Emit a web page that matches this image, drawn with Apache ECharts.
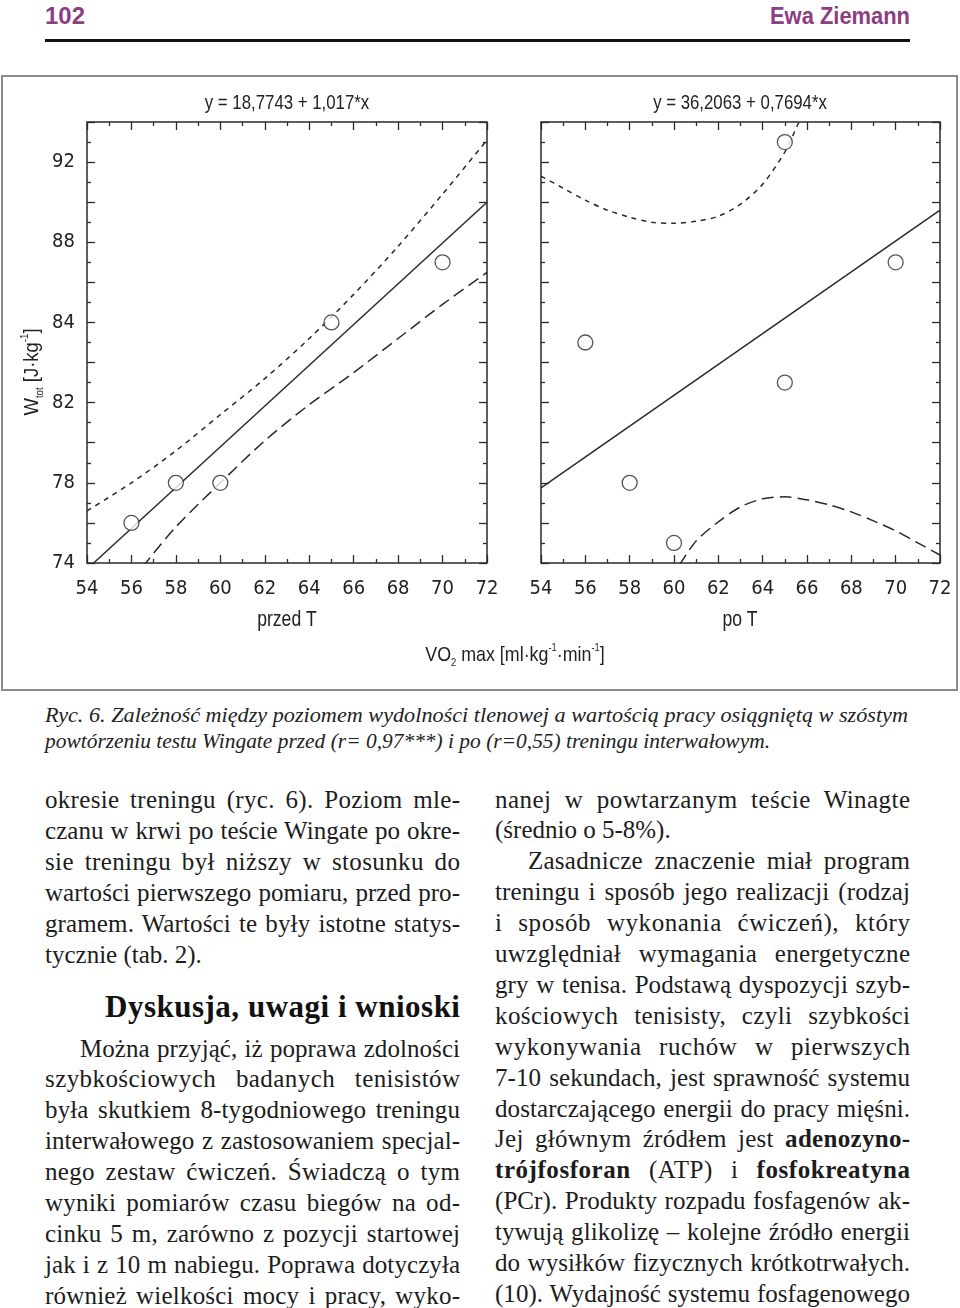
<!DOCTYPE html>
<html>
<head>
<meta charset="utf-8">
<script src="https://cdn.jsdelivr.net/npm/echarts@6/dist/echarts.min.js"></script>
<style>
  html, body { margin: 0; padding: 0; background: #fff; }
  #page { position: relative; width: 960px; height: 1308px; overflow: hidden; background: #fff; }
  .ln { position: absolute; white-space: nowrap; height: 31px; line-height: 31px; }
  .ln > span { display: inline-block; white-space: nowrap; transform-origin: 0 50%; }
  .body { font-family: 'Liberation Serif', 'Times New Roman', serif; font-size: 25px; color: #1c1c1c; }
  .cap { font-family: 'Liberation Serif', 'Times New Roman', serif; font-style: italic; font-size: 22px; color: #222; }
  .head { font-family: 'Liberation Sans', Arial, sans-serif; font-weight: bold; font-size: 23px; color: #8c3d84; }
  .h2 { font-family: 'Liberation Serif', 'Times New Roman', serif; font-weight: bold; font-size: 31px; color: #111; }
  #rule { position: absolute; left: 45px; top: 39px; width: 865px; height: 3px; background: #111; }
  #figbox { position: absolute; left: 1px; top: 75px; width: 953px; height: 612px; border: 2px solid #8c8c8c; }
  #chart { position: absolute; left: 0; top: 75px; width: 958px; height: 616px; }
</style>
</head>
<body>
<div id="page">
  <div id="rule"></div>
  <div id="figbox"></div>
  <div id="chart"></div>
</div>
<script>
// ---------------- data ----------------
// left panel: "przed T"
const preX = [56, 58, 60, 65, 70];
const preY = [76, 78, 78, 86, 89];
const preFitX = [54.3, 72];
const preFitY = [74.0, 92.0];
const preUpperX = [54, 56, 58, 60, 62, 64, 66, 68, 70, 72];
const preUpperY = [76.6, 78.0, 79.6, 81.4, 83.2, 85.2, 87.4, 89.8, 92.4, 95.1];
const preLowerX = [56.5, 58, 60, 62, 64, 66, 68, 70, 72];
const preLowerY = [73.8, 75.8, 78.0, 80.1, 81.9, 83.5, 85.2, 86.9, 88.5];
// right panel: "po T"
const postX = [56, 58, 60, 65, 65, 70];
const postY = [85, 78, 75, 95, 83, 89];
const postFitX = [54, 72];
const postFitY = [77.75, 91.6];
const postUpperX = [54, 55, 56, 57, 58, 59, 60, 61, 62, 63, 64, 65, 65.6, 65.8];
const postUpperY = [93.3, 92.7, 92.1, 91.6, 91.25, 91.0, 90.95, 91.05, 91.3, 91.9, 92.9, 94.5, 95.9, 96.3];
const postLowerX = [60.25, 61, 62, 63, 64, 65, 66, 67, 68, 69, 70, 71, 72];
const postLowerY = [73.9, 75.1, 76.05, 76.8, 77.2, 77.3, 77.15, 76.9, 76.55, 76.1, 75.6, 75.0, 74.4];
// axis tick labels as printed in the figure
const yTickValues = [74, 78, 82, 86, 90, 94];
const yTickLabels = ['74', '78', '82', '84', '88', '92'];
const xTickValues = [54, 56, 58, 60, 62, 64, 66, 68, 70, 72];
const eqLeft = 'y = 18,7743 + 1,017*x';
const eqRight = 'y = 36,2063 + 0,7694*x';
const panelNames = ['przed T', 'po T'];

// ---------------- text of the page ----------------
const headerLeft = '102';
const headerRight = 'Ewa Ziemann';
const captionLines = [
  'Ryc. 6. Zależność między poziomem wydolności tlenowej a wartością pracy osiągniętą w szóstym',
  'powtórzeniu testu Wingate przed (r= 0,97***) i po (r=0,55) treningu interwałowym.'
];
const leftColA = [
  'okresie treningu (ryc. 6). Poziom mle-',
  'czanu w krwi po teście Wingate po okre-',
  'sie treningu był niższy w stosunku do',
  'wartości pierwszego pomiaru, przed pro-',
  'gramem. Wartości te były istotne statys-',
  'tycznie (tab. 2).'
];
const heading = 'Dyskusja, uwagi i wnioski';
const leftColB = [
  'Można przyjąć, iż poprawa zdolności',
  'szybkościowych badanych tenisistów',
  'była skutkiem 8-tygodniowego treningu',
  'interwałowego z zastosowaniem specjal-',
  'nego zestaw ćwiczeń. Świadczą o tym',
  'wyniki pomiarów czasu biegów na od-',
  'cinku 5 m, zarówno z pozycji startowej',
  'jak i z 10 m nabiegu. Poprawa dotyczyła',
  'również wielkości mocy i pracy, wyko-'
];
const rightCol = [
  'nanej w powtarzanym teście Winagte',
  '(średnio o 5-8%).',
  'Zasadnicze znaczenie miał program',
  'treningu i sposób jego realizacji (rodzaj',
  'i sposób wykonania ćwiczeń), który',
  'uwzględniał wymagania energetyczne',
  'gry w tenisa. Podstawą dyspozycji szyb-',
  'kościowych tenisisty, czyli szybkości',
  'wykonywania ruchów w pierwszych',
  '7-10 sekundach, jest sprawność systemu',
  'dostarczającego energii do pracy mięśni.',
  'Jej głównym źródłem jest <b>adenozyno-</b>',
  '<b>trójfosforan</b> (ATP) i <b>fosfokreatyna</b>',
  '(PCr). Produkty rozpadu fosfagenów ak-',
  'tywują glikolizę – kolejne źródło energii',
  'do wysiłków fizycznych krótkotrwałych.',
  '(10). Wydajność systemu fosfagenowego'
];

// ---------------- page text layout ----------------
const page = document.getElementById('page');
const BASE = 1.0;
function addLine(html, cls, x, yc, target, mode, h) {
  const d = document.createElement('div');
  d.className = 'ln ' + cls;
  const lh = h || 31;
  d.style.left = x + 'px';
  d.style.top = (yc - lh / 2) + 'px';
  d.style.height = lh + 'px';
  d.style.lineHeight = lh + 'px';
  const s = document.createElement('span');
  s.innerHTML = html;
  d.appendChild(s);
  page.appendChild(d);
  const w = s.getBoundingClientRect().width;
  const txt = s.textContent;
  const spaces = (txt.match(/ /g) || []).length;
  if (mode === 'justify') {
    if (w * BASE >= target || spaces === 0) {
      s.style.transform = 'scaleX(' + (target / w) + ')';
    } else {
      const extra = target / BASE - w;
      // spread part of the slack between letters, the rest between words
      const letters = txt.length - 1;
      const ls = Math.min(extra * 0.35 / letters, 1.2);
      s.style.letterSpacing = ls + 'px';
      const w2 = w + ls * letters;
      s.style.wordSpacing = ((target / BASE - w2) / spaces) + 'px';
      if (BASE !== 1) s.style.transform = 'scaleX(' + BASE + ')';
    }
  } else if (mode === 'left') {
    if (BASE !== 1) s.style.transform = 'scaleX(' + BASE + ')';
  } else if (mode === 'scale') {
    s.style.transform = 'scaleX(' + (target / w) + ')';
  } else if (mode === 'letter') {
    const n = txt.length;
    if (w > target) s.style.transform = 'scaleX(' + (target / w) + ')';
    else s.style.letterSpacing = ((target - w) / (n - 1)) + 'px';
  }
}
addLine(headerLeft, 'head', 45, 16, 40, 'scale', 28);
addLine(headerRight, 'head', 770, 16, 140, 'scale', 28);
addLine(captionLines[0], 'cap', 45, 715, 863, 'scale', 26);
addLine(captionLines[1], 'cap', 45, 741, 725, 'scale', 26);
leftColA.forEach((t, i) => addLine(t, 'body', 45, 799 + i * 31, 415, i === leftColA.length - 1 ? 'left' : 'justify'));
addLine(heading, 'h2', 105, 1007, 355, 'letter', 36);
leftColB.forEach((t, i) => addLine(t, 'body', i === 0 ? 80 : 45, 1048 + i * 30.9, i === 0 ? 380 : 415, 'justify'));
rightCol.forEach((t, i) => {
  const x = i === 2 ? 528 : 495;
  const mode = i === 1 ? 'left' : 'justify';
  addLine(t, 'body', x, 799 + i * 30.9, 910 - x, mode);
});

// ---------------- chart ----------------
const FONT = "'Liberation Sans Narrow', 'DejaVu Sans Condensed', 'Liberation Sans', sans-serif";
const TFONT = "'Liberation Sans', Arial, sans-serif";
const INK = '#2a2a2a';
const zip = (xs, ys) => xs.map((x, i) => [x, ys[i]]);
const chart = echarts.init(document.getElementById('chart'), null, { renderer: 'canvas' });

const grids = [
  { left: 87, top: 47, width: 400, height: 441, show: true, borderColor: INK, borderWidth: 1.5, backgroundColor: 'transparent' },
  { left: 541, top: 47, width: 399, height: 441, show: true, borderColor: INK, borderWidth: 1.5, backgroundColor: 'transparent' }
];
function xAx(g, pos, labels) {
  return {
    gridIndex: g, type: 'value', position: pos, min: 54, max: 72, interval: 2,
    axisLine: { show: false }, splitLine: { show: false },
    axisTick: { show: true, inside: true, length: 8, lineStyle: { color: INK, width: 1.3 } },
    minorTick: { show: true, splitNumber: 2, length: 4, lineStyle: { color: INK, width: 1.3 } },
    axisLabel: labels ? {
      show: true, fontFamily: FONT, fontSize: 20, color: '#222', margin: 16,
      formatter: v => (xTickValues.indexOf(v) >= 0 ? String(v) : '')
    } : { show: false }
  };
}
function yAx(g, pos, labels) {
  return {
    gridIndex: g, type: 'value', position: pos, min: 74, max: 96, interval: 2,
    axisLine: { show: false }, splitLine: { show: false },
    axisTick: { show: true, inside: true, length: 8, lineStyle: { color: INK, width: 1.3 } },
    minorTick: { show: true, splitNumber: 2, length: 4, lineStyle: { color: INK, width: 1.3 } },
    axisLabel: labels ? {
      show: true, fontFamily: FONT, fontSize: 20, color: '#222', margin: 12,
      formatter: v => { const i = yTickValues.indexOf(v); return i >= 0 ? yTickLabels[i] : ''; }
    } : { show: false }
  };
}
const lineBase = (xi, yi, data, dash, smooth) => ({
  type: 'line', xAxisIndex: xi, yAxisIndex: yi, data: data, symbol: 'none', smooth: smooth || false,
  lineStyle: { color: INK, width: 1.5, type: dash || 'solid' }, z: 2, silent: true, clip: true
});
const scat = (xi, yi, data) => ({
  type: 'scatter', xAxisIndex: xi, yAxisIndex: yi, data: data, symbol: 'circle', symbolSize: 15,
  itemStyle: { color: '#fff', borderColor: INK, borderWidth: 1.3 }, z: 5, silent: true
});

const richSS = {
  a: { fontFamily: TFONT, fontSize: 21, fill: '#222', lineHeight: 26 },
  sub: { fontFamily: TFONT, fontSize: 11, fill: '#222', lineHeight: 12, verticalAlign: 'bottom' },
  sup: { fontFamily: TFONT, fontSize: 11, fill: '#222', lineHeight: 12, verticalAlign: 'top' }
};
const txt = (x, y, text, size, sx) => ({
  type: 'text', x: x, y: y, scaleX: sx,
  style: { text: text, font: size + 'px ' + TFONT, fill: '#222', align: 'center', verticalAlign: 'middle' }
});

chart.setOption({
  animation: false,
  backgroundColor: 'transparent',
  grid: grids,
  xAxis: [xAx(0, 'bottom', true), xAx(0, 'top', false), xAx(1, 'bottom', true), xAx(1, 'top', false)],
  yAxis: [yAx(0, 'left', true), yAx(0, 'right', false), yAx(1, 'left', false), yAx(1, 'right', false)],
  series: [
    lineBase(0, 0, zip(preFitX, preFitY)),
    lineBase(0, 0, zip(preUpperX, preUpperY), [5, 5], 0.3),
    lineBase(0, 0, zip(preLowerX, preLowerY), [12, 6], 0.3),
    scat(0, 0, zip(preX, preY)),
    lineBase(2, 2, zip(postFitX, postFitY)),
    lineBase(2, 2, zip(postUpperX, postUpperY), [5, 5], 0.3),
    lineBase(2, 2, zip(postLowerX, postLowerY), [12, 6], 0.3),
    scat(2, 2, zip(postX, postY))
  ],
  graphic: [
    txt(287, 28, eqLeft, 21, 0.8),
    txt(740, 28, eqRight, 21, 0.8),
    txt(287, 545, panelNames[0], 22, 0.8),
    txt(740, 545, panelNames[1], 22, 0.8),
    { type: 'text', x: 515, y: 580, scaleX: 0.85, style: { text: '{a|VO}{sub|2}{a| max [ml·kg}{sup|-1}{a|·min}{sup|-1}{a|]}', rich: richSS, align: 'center', verticalAlign: 'middle' } },
    { type: 'text', x: 32, y: 297, rotation: Math.PI / 2, scaleX: 0.88, style: { text: '{a|W}{sub|tot}{a| [J·kg}{sup|-1}{a|]}', rich: richSS, align: 'center', verticalAlign: 'middle' } }
  ]
});
</script>
</body>
</html>
